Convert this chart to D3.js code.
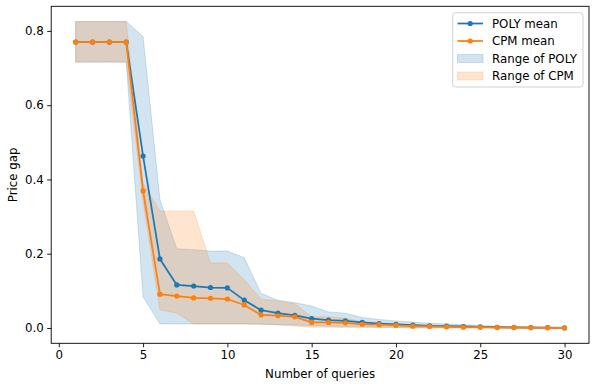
<!DOCTYPE html>
<html><head><meta charset="utf-8">
<script src="https://cdn.jsdelivr.net/npm/d3@7/dist/d3.min.js"></script>
<style>
body{margin:0;background:#fff}
svg{display:block}
text{font-family:"DejaVu Sans",sans-serif}
</style>
</head><body>
<svg id="chart" width="596" height="387"></svg>
<script>
const queries = [1,2,3,4,5,6,7,8,9,10,11,12,13,14,15,16,17,18,19,20,21,22,23,24,25,26,27,28,29,30];
const polyMean = [0.77,0.77,0.77,0.77,0.463,0.186,0.116,0.113,0.109,0.108,0.075,0.048,0.040,0.034,0.025,0.021,0.019,0.015,0.012,0.010,0.008,0.006,0.005,0.004,0.003,0.002,0.0015,0.001,0.001,0.0005];
const cpmMean  = [0.77,0.77,0.77,0.77,0.369,0.091,0.086,0.081,0.080,0.078,0.062,0.035,0.033,0.030,0.015,0.015,0.014,0.010,0.009,0.007,0.005,0.004,0.003,0.002,0.002,0.001,0.001,0.001,0.0005,0.0];
const polyHigh = [0.825,0.825,0.825,0.825,0.785,0.345,0.213,0.211,0.207,0.207,0.189,0.093,0.075,0.068,0.059,0.043,0.040,0.028,0.023,0.019,0.016,0.013,0.011,0.009,0.007,0.005,0.004,0.003,0.002,0.002];
const polyLow  = [0.716,0.716,0.716,0.716,0.084,0.011,0.011,0.011,0.011,0.011,0.011,0.010,0.009,0.008,0.006,0.005,0.004,0.003,0.002,0.002,0.001,0.001,0.001,0,0,0,0,0,0,0];
const cpmHigh  = [0.825,0.825,0.825,0.825,0.39,0.315,0.315,0.315,0.175,0.175,0.13,0.078,0.073,0.065,0.030,0.030,0.026,0.017,0.014,0.012,0.010,0.008,0.006,0.005,0.004,0.003,0.002,0.002,0.001,0.001];
const cpmLow   = [0.716,0.716,0.716,0.716,0.34,0.049,0.040,0.011,0.011,0.011,0.011,0.010,0.008,0.005,0.002,0.002,0.001,0.001,0.001,0.001,0,0,0,0,0,0,0,0,0,0];
const xTicks = [0,5,10,15,20,25,30];
const yTicks = [0.0,0.2,0.4,0.6,0.8];
const legendLabels = ["POLY mean","CPM mean","Range of POLY","Range of CPM"];
const colors = {poly:"#1f77b4", cpm:"#ff7f0e"};

const svg = d3.select("#chart");
const L = 51.2, R = 589, T = 6.3, B = 343.3;
const x = d3.scaleLinear().domain([-0.45, 31.45]).range([L, R]);
const y = d3.scaleLinear().domain([-0.04125, 0.86625]).range([B, T]);
const fs = 11.8;

function band(high, low, color){
  const area = d3.area().x((d,i)=>x(queries[i])).y0((d,i)=>y(low[i])).y1((d,i)=>y(high[i]));
  svg.append("path").attr("d", area(high)).attr("fill", color).attr("fill-opacity",0.2)
     .attr("stroke", color).attr("stroke-opacity",0.2).attr("stroke-width",1);
}
band(polyHigh, polyLow, colors.poly);
band(cpmHigh, cpmLow, colors.cpm);

function series(vals, color){
  const line = d3.line().x((d,i)=>x(queries[i])).y(d=>y(d));
  svg.append("path").attr("d", line(vals)).attr("fill","none").attr("stroke", color)
     .attr("stroke-width",1.75).attr("stroke-linejoin","round");
  svg.append("g").selectAll("circle").data(vals).join("circle")
     .attr("cx",(d,i)=>x(queries[i])).attr("cy",d=>y(d)).attr("r",2.6).attr("fill",color);
}
series(polyMean, colors.poly);
series(cpmMean, colors.cpm);

// axes
const xAxis = svg.append("g").attr("transform",`translate(0,${B})`)
  .call(d3.axisBottom(x).tickValues(xTicks).tickFormat(d3.format("d")).tickSize(4).tickPadding(3.5));
const yAxis = svg.append("g").attr("transform",`translate(${L},0)`)
  .call(d3.axisLeft(y).tickValues(yTicks).tickFormat(d3.format(".1f")).tickSize(4).tickPadding(3.5));
[xAxis,yAxis].forEach(g=>{
  g.select(".domain").remove();
  g.selectAll(".tick line").attr("stroke","#000").attr("stroke-width",0.9);
  g.selectAll(".tick text").attr("fill","#000").style("font-size",fs+"px").style("font-family","DejaVu Sans");
});
svg.append("rect").attr("x",L).attr("y",T).attr("width",R-L).attr("height",B-T)
   .attr("fill","none").attr("stroke","#000").attr("stroke-width",0.9);

svg.append("text").attr("x",(L+R)/2).attr("y",377.5).attr("text-anchor","middle")
   .style("font-size",fs+"px").text("Number of queries");
svg.append("text").attr("transform",`translate(16.5,${(T+B)/2}) rotate(-90)`).attr("text-anchor","middle")
   .style("font-size",fs+"px").text("Price gap");

// legend
const lg = svg.append("g");
lg.append("rect").attr("x",452.7).attr("y",12.7).attr("width",130.3).attr("height",74.3)
  .attr("rx",3).attr("fill","#fff").attr("fill-opacity",0.8).attr("stroke","#cccccc").attr("stroke-width",0.9);
const rowY = [23.5,41,58.5,76];
const lcol = [colors.poly, colors.cpm, colors.poly, colors.cpm];
legendLabels.forEach((lab,i)=>{
  if(i<2){
    lg.append("line").attr("x1",457.5).attr("x2",483).attr("y1",rowY[i]).attr("y2",rowY[i])
      .attr("stroke",lcol[i]).attr("stroke-width",1.75);
    lg.append("circle").attr("cx",470.2).attr("cy",rowY[i]).attr("r",2.6).attr("fill",lcol[i]);
  } else {
    lg.append("rect").attr("x",457.5).attr("y",rowY[i]-4).attr("width",25.5).attr("height",8)
      .attr("fill",lcol[i]).attr("fill-opacity",0.2).attr("stroke",lcol[i]).attr("stroke-opacity",0.2);
  }
  lg.append("text").attr("x",492).attr("y",rowY[i]+4.3).style("font-size",fs+"px").text(lab);
});
</script>
</body></html>
